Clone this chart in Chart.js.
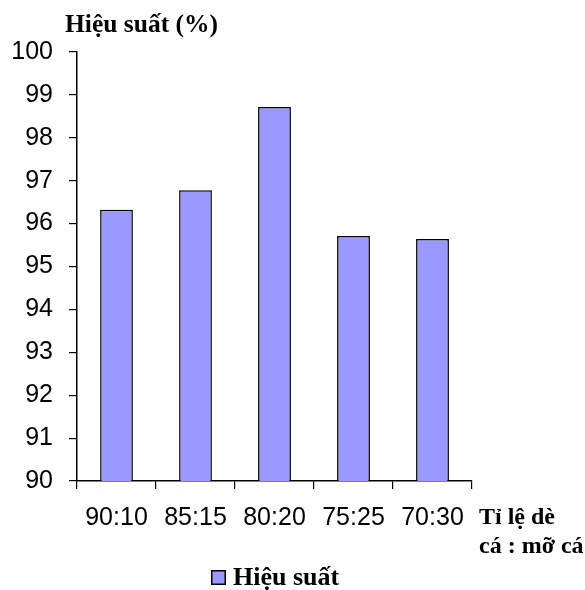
<!DOCTYPE html>
<html>
<head>
<meta charset="utf-8">
<script src="https://cdn.jsdelivr.net/npm/chart.js@4.4.1/dist/chart.umd.min.js"></script>
<style>
  html, body { margin: 0; padding: 0; background: #ffffff; }
  #wrap { width: 585px; height: 590px; position: relative; }
</style>
</head>
<body>
<div id="wrap"><canvas id="c" width="585" height="590"></canvas></div>
<script>
// Tỉ lệ dè cá : mỡ cá
const categories = ['90:10', '85:15', '80:20', '75:25', '70:30'];
// Hiệu suất (%)
const efficiency = [96.32, 96.78, 98.72, 95.71, 95.64];
const yTicks = [90, 91, 92, 93, 94, 95, 96, 97, 98, 99, 100];

const seriesLabel = 'Hiệu suất';
const yTitle = 'Hiệu suất (%)';
const xTitleLines = ['Tỉ lệ dè', 'cá : mỡ cá'];

const serif = '"Liberation Serif", "Times New Roman", serif';
const sans = '"Liberation Sans", Arial, sans-serif';

const annotate = {
  id: 'annotate',
  afterDraw(chart) {
    const ctx = chart.ctx;
    const area = chart.chartArea;
    ctx.save();
    ctx.fillStyle = '#000';
    ctx.textBaseline = 'alphabetic';
    ctx.textAlign = 'left';
    // y axis title
    ctx.font = 'bold 25.5px ' + serif;
    ctx.fillText(yTitle, 65, 32);
    // x axis title, two lines to the right of the last category
    ctx.font = 'bold 24px ' + serif;
    ctx.fillText(xTitleLines[0], area.right + 7, 524);
    ctx.fillText(xTitleLines[1], area.right + 7, 553);
    // legend
    const ds = chart.data.datasets[0];
    ctx.fillStyle = ds.backgroundColor;
    ctx.fillRect(212, 571, 13, 13);
    ctx.strokeStyle = '#000';
    ctx.lineWidth = 1.5;
    ctx.strokeRect(211.75, 570.75, 13.5, 13.5);
    ctx.fillStyle = '#000';
    ctx.font = 'bold 26px ' + serif;
    ctx.fillText(ds.label, 233, 585);
    ctx.restore();
  }
};

new Chart(document.getElementById('c'), {
  type: 'bar',
  data: {
    labels: categories,
    datasets: [{
      label: seriesLabel,
      data: efficiency,
      backgroundColor: '#9999ff',
      borderColor: '#000000',
      borderWidth: 1.5,
      borderSkipped: 'bottom',
      barPercentage: 0.415,
      categoryPercentage: 1.0
    }]
  },
  options: {
    responsive: false,
    animation: false,
    devicePixelRatio: 1,
    layout: { padding: { left: 0, top: 52, right: 113, bottom: 0 } },
    plugins: { legend: { display: false }, tooltip: { enabled: false }, title: { display: false } },
    scales: {
      x: {
        offset: true,
        grid: {
          display: true,
          drawOnChartArea: false,
          drawTicks: true,
          tickLength: 8,
          offset: true,
          color: '#000',
          lineWidth: 1.2
        },
        border: { display: true, color: '#000', width: 1.5 },
        ticks: {
          color: '#000',
          font: { family: sans, size: 25 },
          padding: 14,
          maxRotation: 0
        },
        afterFit(scale) { scale.height = 109; }
      },
      y: {
        min: 90,
        max: 100,
        afterBuildTicks(scale) { scale.ticks = yTicks.map(v => ({ value: v })); },
        grid: {
          display: true,
          drawOnChartArea: false,
          drawTicks: true,
          tickLength: 8,
          color: '#000',
          lineWidth: 1.2
        },
        border: { display: true, color: '#000', width: 1.5 },
        ticks: {
          color: '#000',
          font: { family: sans, size: 25 },
          padding: 16
        },
        afterFit(scale) { scale.width = 77; }
      }
    }
  },
  plugins: [annotate]
});
</script>
</body>
</html>
